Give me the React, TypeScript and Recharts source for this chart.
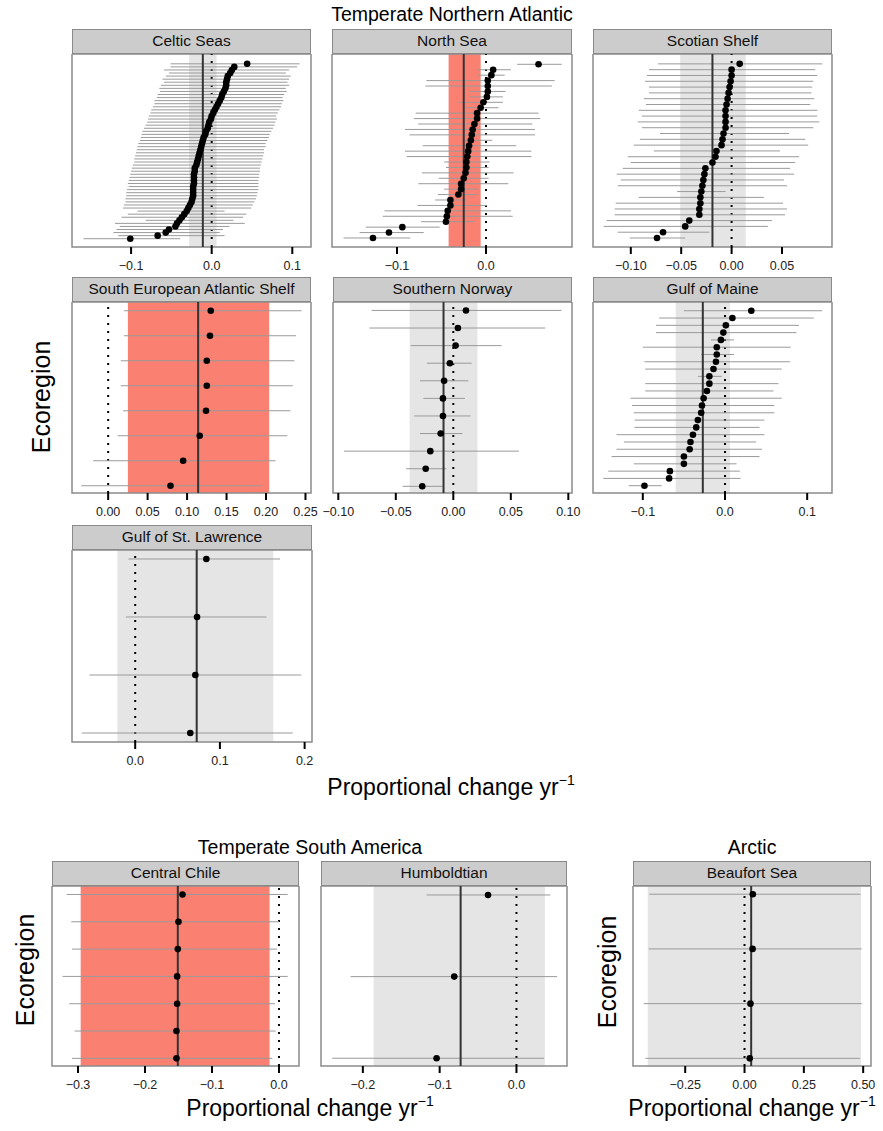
import React from 'react';
import {
    ComposedChart,
    Scatter,
    XAxis,
    YAxis,
    ErrorBar,
    ReferenceArea,
    ReferenceLine
} from 'recharts';

const FONT = '"Liberation Sans", Arial, Helvetica, sans-serif';
const HEADER_H = 25;
const SALMON = '#fa8072';
const GREY_BAND = '#e5e5e5';

// --- data: estimates with lower / upper limits, bottom row first ---

const celticEst = [-0.101, -0.067, -0.057, -0.053, -0.045, -0.043, -0.040, -0.037, -0.034, -0.031, -0.029, -0.027, -0.025, -0.024, -0.023, -0.023, -0.023, -0.023, -0.022, -0.022, -0.022, -0.022, -0.021, -0.021, -0.019, -0.018, -0.017, -0.016, -0.015, -0.014, -0.013, -0.012, -0.011, -0.010, -0.008, -0.007, -0.005, -0.004, -0.003, -0.001, 0.000, 0.002, 0.004, 0.006, 0.008, 0.010, 0.012, 0.013, 0.015, 0.017, 0.018, 0.018, 0.019, 0.020, 0.023, 0.025, 0.028, 0.044];
const celticLo = [-0.159, -0.116, -0.122, -0.118, -0.114, -0.120, -0.082, -0.112, -0.104, -0.092, -0.110, -0.109, -0.107, -0.107, -0.106, -0.106, -0.105, -0.103, -0.104, -0.103, -0.102, -0.101, -0.100, -0.099, -0.098, -0.096, -0.096, -0.095, -0.094, -0.093, -0.092, -0.091, -0.089, -0.088, -0.087, -0.086, -0.084, -0.082, -0.080, -0.079, -0.078, -0.076, -0.075, -0.073, -0.071, -0.071, -0.068, -0.067, -0.064, -0.065, -0.063, -0.059, -0.061, -0.057, -0.053, -0.059, -0.051, -0.051];
const celticHi = [-0.039, 0.016, 0.010, 0.014, 0.022, 0.041, 0.027, 0.039, 0.043, 0.016, 0.049, 0.051, 0.053, 0.055, 0.056, 0.057, 0.058, 0.058, 0.058, 0.058, 0.059, 0.059, 0.060, 0.060, 0.061, 0.062, 0.063, 0.064, 0.065, 0.065, 0.067, 0.067, 0.069, 0.071, 0.072, 0.074, 0.076, 0.078, 0.079, 0.081, 0.080, 0.082, 0.084, 0.086, 0.087, 0.089, 0.088, 0.090, 0.093, 0.092, 0.096, 0.094, 0.096, 0.098, 0.092, 0.096, 0.106, 0.109];

const northSeaEst = [-0.127, -0.109, -0.094, -0.045, -0.044, -0.043, -0.040, -0.040, -0.031, -0.028, -0.028, -0.025, -0.023, -0.022, -0.022, -0.021, -0.020, -0.019, -0.017, -0.016, -0.015, -0.013, -0.010, -0.010, -0.006, -0.003, 0.001, 0.002, 0.002, 0.002, 0.006, 0.008, 0.059];
const northSeaLo = [-0.160, -0.142, -0.135, -0.073, -0.116, -0.114, -0.077, -0.057, -0.054, -0.047, -0.076, -0.053, -0.072, -0.045, -0.047, -0.089, -0.091, -0.071, -0.027, -0.086, -0.091, -0.076, -0.081, -0.079, -0.022, -0.031, -0.018, -0.018, -0.068, -0.067, -0.009, -0.010, 0.035];
const northSeaHi = [-0.085, -0.070, -0.052, -0.013, 0.030, 0.028, 0.001, -0.022, -0.009, -0.009, 0.025, 0.003, 0.031, 0.003, 0.004, 0.051, 0.051, 0.034, 0.007, 0.055, 0.055, 0.052, 0.061, 0.059, 0.014, 0.019, 0.019, 0.022, 0.074, 0.077, 0.021, 0.028, 0.085];

const scotianEst = [-0.074, -0.068, -0.046, -0.042, -0.032, -0.032, -0.031, -0.031, -0.030, -0.029, -0.028, -0.027, -0.026, -0.019, -0.016, -0.015, -0.010, -0.009, -0.008, -0.006, -0.006, -0.006, -0.006, -0.005, -0.004, -0.003, -0.002, -0.001, 0.000, 0.000, 0.008];
const scotianLo = [-0.101, -0.113, -0.127, -0.124, -0.116, -0.116, -0.115, -0.092, -0.054, -0.113, -0.110, -0.114, -0.108, -0.100, -0.103, -0.077, -0.097, -0.091, -0.071, -0.089, -0.093, -0.089, -0.092, -0.085, -0.087, -0.082, -0.082, -0.086, -0.084, -0.082, -0.073];
const scotianHi = [-0.046, -0.022, 0.036, 0.040, 0.053, 0.055, 0.051, 0.032, -0.006, 0.055, 0.052, 0.062, 0.058, 0.063, 0.067, 0.048, 0.076, 0.073, 0.057, 0.081, 0.087, 0.085, 0.085, 0.078, 0.082, 0.079, 0.080, 0.081, 0.085, 0.083, 0.090];

const seasEst = [0.079, 0.095, 0.116, 0.124, 0.125, 0.125, 0.129, 0.130];
const seasLo = [-0.034, -0.019, 0.012, 0.019, 0.016, 0.016, 0.020, 0.020];
const seasHi = [0.195, 0.212, 0.227, 0.231, 0.234, 0.236, 0.238, 0.245];

const norwayEst = [-0.027, -0.024, -0.020, -0.011, -0.009, -0.009, -0.008, -0.003, 0.002, 0.004, 0.011];
const norwayLo = [-0.044, -0.041, -0.095, -0.029, -0.034, -0.026, -0.029, -0.023, -0.037, -0.073, -0.071];
const norwayHi = [-0.009, -0.006, 0.057, 0.008, 0.015, 0.010, 0.013, 0.016, 0.042, 0.080, 0.094];

const maineEst = [-0.098, -0.068, -0.067, -0.050, -0.050, -0.043, -0.042, -0.039, -0.035, -0.033, -0.029, -0.028, -0.026, -0.022, -0.019, -0.019, -0.014, -0.011, -0.010, -0.010, -0.005, -0.002, 0.001, 0.009, 0.032];
const maineLo = [-0.117, -0.148, -0.142, -0.111, -0.138, -0.132, -0.123, -0.132, -0.110, -0.110, -0.111, -0.113, -0.115, -0.097, -0.097, -0.033, -0.097, -0.098, -0.029, -0.100, -0.017, -0.084, -0.084, -0.080, -0.050];
const maineHi = [-0.077, 0.019, 0.018, 0.014, 0.042, 0.045, 0.038, 0.048, 0.042, 0.048, 0.060, 0.060, 0.069, 0.059, 0.065, -0.004, 0.069, 0.079, 0.011, 0.080, 0.011, 0.087, 0.090, 0.108, 0.118];

const lawrenceEst = [0.065, 0.071, 0.073, 0.084];
const lawrenceLo = [-0.063, -0.054, -0.011, -0.008];
const lawrenceHi = [0.186, 0.196, 0.155, 0.171];

const chileEst = [-0.153, -0.153, -0.152, -0.152, -0.151, -0.150, -0.144];
const chileLo = [-0.309, -0.305, -0.313, -0.323, -0.309, -0.310, -0.317];
const chileHi = [-0.010, -0.005, -0.006, 0.013, -0.003, 0.000, 0.013];

const humboldtRows = [1, 3, 5];
const humboldtEst = [-0.104, -0.081, -0.037];
const humboldtLo = [-0.240, -0.216, -0.117];
const humboldtHi = [0.036, 0.053, 0.044];

const beaufortEst = [0.022, 0.025, 0.034, 0.035];
const beaufortLo = [-0.418, -0.425, -0.404, -0.401];
const beaufortHi = [0.487, 0.494, 0.494, 0.489];

// overall mean and its interval per ecoregion
const celticMean = -0.011, celticBand = [-0.028, 0.006];
const northSeaMean = -0.025, northSeaBand = [-0.042, -0.006];
const scotianMean = -0.019, scotianBand = [-0.051, 0.014];
const seasMean = 0.114, seasBand = [0.025, 0.204];
const norwayMean = -0.0085, norwayBand = [-0.038, 0.021];
const maineMean = -0.027, maineBand = [-0.060, 0.006];
const lawrenceMean = 0.0726, lawrenceBand = [-0.021, 0.163];
const chileMean = -0.151, chileBand = [-0.296, -0.014];
const humboldtMean = -0.0727, humboldtBand = [-0.186, 0.037];
const beaufortMean = 0.028, beaufortBand = [-0.408, 0.491];

const fmt = (d: number) => (v: number) => {
    const s = Math.abs(v).toFixed(d);
    return v < -1e-9 ? '\u2212' + s : s;
};

const Dot = (props: any) => <circle cx={props.cx} cy={props.cy} r={3.3} fill="#000" />;
const Nothing = () => <g />;

function Panel({ p }: { p: any }) {
    const data = p.est.map((e: number, i: number) => ({
        x: e,
        y: p.rows ? p.rows[i] : i + 1,
        err: [e - p.lo[i], p.hi[i] - e]
    }));
    const padL = 25;
    const padR = 18;
    const axisH = 32;
    return (
        <div style={{ position: 'absolute', left: p.left - padL, top: p.top }}>
            <div style={{
                position: 'absolute', left: padL, top: 0, width: p.width, height: HEADER_H,
                boxSizing: 'border-box', background: '#cccccc', border: '1.5px solid #8a8a8a',
                fontSize: 15.5, lineHeight: (HEADER_H - 3) + 'px', textAlign: 'center', color: '#111'
            }}>{p.title}</div>
            <div style={{ position: 'absolute', left: 0, top: HEADER_H }}>
                <ComposedChart
                    width={padL + p.width + padR}
                    height={p.plotH + axisH}
                    margin={{ top: 0, right: padR, bottom: 0, left: padL - 10 }}
                >
                    <XAxis
                        type="number"
                        dataKey="x"
                        domain={p.xDomain}
                        ticks={p.xTicks}
                        interval={0}
                        allowDataOverflow
                        height={axisH}
                        axisLine={false}
                        tickSize={7}
                        tickMargin={7}
                        tickLine={{ stroke: '#000', strokeWidth: 2 }}
                        tick={{ fontSize: 12.5, fill: '#222', fontFamily: FONT }}
                        tickFormatter={fmt(p.digits)}
                    />
                    <YAxis
                        type="number"
                        dataKey="y"
                        domain={p.yDomain}
                        ticks={p.yTicks}
                        interval={0}
                        allowDataOverflow
                        width={10}
                        tickSize={8}
                        tick={false}
                        axisLine={false}
                        tickLine={{ stroke: '#000', strokeWidth: 1 }}
                    />
                    <ReferenceArea
                        x1={p.band[0]} x2={p.band[1]}
                        y1={p.yDomain[0]} y2={p.yDomain[1]}
                        fill={p.red ? SALMON : GREY_BAND} fillOpacity={1} stroke="none"
                    />
                    <ReferenceLine x={0} stroke="#000" strokeWidth={2} strokeDasharray="2 6" />
                    <Scatter data={data} shape={Nothing} isAnimationActive={false}>
                        <ErrorBar dataKey="err" direction="x" width={0} stroke="#9a9a9a" strokeWidth={1} />
                    </Scatter>
                    <ReferenceLine x={p.mean} stroke="#333" strokeWidth={2} />
                    <Scatter data={data} shape={Dot} isAnimationActive={false} />
                    <ReferenceArea
                        x1={p.xDomain[0]} x2={p.xDomain[1]}
                        y1={p.yDomain[0]} y2={p.yDomain[1]}
                        fill="none" stroke="#8a8a8a" strokeWidth={1.5}
                    />
                </ComposedChart>
            </div>
        </div>
    );
}

const panels = [
    { title: 'Celtic Seas', est: celticEst, lo: celticLo, hi: celticHi, mean: celticMean, band: celticBand, red: false,
      left: 72, top: 29, width: 239, plotH: 193, xDomain: [-0.1733, 0.1232], xTicks: [-0.1, 0, 0.1], digits: 1,
      yDomain: [-1.7, 61.2], yTicks: [0, 15, 30, 45, 60] },
    { title: 'North Sea', est: northSeaEst, lo: northSeaLo, hi: northSeaHi, mean: northSeaMean, band: northSeaBand, red: true,
      left: 332, top: 29, width: 240, plotH: 193, xDomain: [-0.173, 0.0966], xTicks: [-0.1, 0], digits: 1,
      yDomain: [-0.66, 34.9], yTicks: [0, 10, 20, 30] },
    { title: 'Scotian Shelf', est: scotianEst, lo: scotianLo, hi: scotianHi, mean: scotianMean, band: scotianBand, red: false,
      left: 593, top: 29, width: 239, plotH: 193, xDomain: [-0.1375, 0.0996], xTicks: [-0.1, -0.05, 0, 0.05], digits: 2,
      yDomain: [-0.55, 32.7], yTicks: [7, 17, 27] },
    { title: 'South European Atlantic Shelf', est: seasEst, lo: seasLo, hi: seasHi, mean: seasMean, band: seasBand, red: true,
      left: 72, top: 277, width: 239, plotH: 191, xDomain: [-0.0458, 0.257], xTicks: [0, 0.05, 0.1, 0.15, 0.2, 0.25], digits: 2,
      yDomain: [0.71, 8.35], yTicks: [2, 4, 6, 8] },
    { title: 'Southern Norway', est: norwayEst, lo: norwayLo, hi: norwayHi, mean: norwayMean, band: norwayBand, red: false,
      left: 333, top: 277, width: 239, plotH: 191, xDomain: [-0.1046, 0.1032], xTicks: [-0.1, -0.05, 0, 0.05, 0.1], digits: 2,
      yDomain: [0.62, 11.48], yTicks: [2, 4.5, 7, 9.5] },
    { title: 'Gulf of Maine', est: maineEst, lo: maineLo, hi: maineHi, mean: maineMean, band: maineBand, red: false,
      left: 593, top: 277, width: 239, plotH: 191, xDomain: [-0.1606, 0.1302], xTicks: [-0.1, 0, 0.1], digits: 1,
      yDomain: [0, 26.2], yTicks: [3, 8, 13, 18, 23] },
    { title: 'Gulf of St. Lawrence', est: lawrenceEst, lo: lawrenceLo, hi: lawrenceHi, mean: lawrenceMean, band: lawrenceBand, red: false,
      left: 72, top: 525, width: 240, plotH: 192, xDomain: [-0.0746, 0.2087], xTicks: [0, 0.1, 0.2], digits: 1,
      yDomain: [0.845, 4.155], yTicks: [1, 2, 3, 4] },
    { title: 'Central Chile', est: chileEst, lo: chileLo, hi: chileHi, mean: chileMean, band: chileBand, red: true,
      left: 52, top: 861, width: 247, plotH: 180, xDomain: [-0.3388, 0.0299], xTicks: [-0.3, -0.2, -0.1, 0], digits: 1,
      yDomain: [0.72, 7.31], yTicks: [2, 4, 6] },
    { title: 'Humboldtian', est: humboldtEst, lo: humboldtLo, hi: humboldtHi, rows: humboldtRows, mean: humboldtMean, band: humboldtBand, red: false,
      left: 321, top: 861, width: 246, plotH: 180, xDomain: [-0.2545, 0.0658], xTicks: [-0.2, -0.1, 0], digits: 1,
      yDomain: [0.81, 5.22], yTicks: [1, 2, 3, 4, 5] },
    { title: 'Beaufort Sea', est: beaufortEst, lo: beaufortLo, hi: beaufortHi, mean: beaufortMean, band: beaufortBand, red: false,
      left: 633, top: 861, width: 238, plotH: 180, xDomain: [-0.470, 0.533], xTicks: [-0.25, 0, 0.25, 0.5], digits: 2,
      yDomain: [0.86, 4.15], yTicks: [1, 2, 3, 4] }
];

function Label({ x, y, size, rotate, children }: any) {
    return (
        <div style={{
            position: 'absolute', left: x, top: y, whiteSpace: 'nowrap', fontSize: size, color: '#000',
            transform: `translate(-50%, -50%)${rotate ? ' rotate(-90deg)' : ''}`
        }}>{children}</div>
    );
}

const XTitle = () => (
    <span>Proportional change yr<span style={{ fontSize: 14, position: 'relative', top: -10 }}>{'\u22121'}</span></span>
);

export default function App() {
    return (
        <div style={{ position: 'absolute', left: 0, top: 0, width: 883, height: 1131, background: '#fff', fontFamily: FONT }}>
            <Label x={452} y={14} size={19.5}>Temperate Northern Atlantic</Label>
            <Label x={41} y={397} size={25} rotate>Ecoregion</Label>
            <Label x={451} y={787} size={23}><XTitle /></Label>

            <Label x={310} y={847} size={19.5}>Temperate South America</Label>
            <Label x={752} y={847} size={19.5}>Arctic</Label>
            <Label x={25} y={970} size={25} rotate>Ecoregion</Label>
            <Label x={607} y={972} size={25} rotate>Ecoregion</Label>
            <Label x={310} y={1108} size={23}><XTitle /></Label>
            <Label x={752} y={1108} size={23}><XTitle /></Label>

            {panels.map((p) => <Panel key={p.title} p={p} />)}
        </div>
    );
}
